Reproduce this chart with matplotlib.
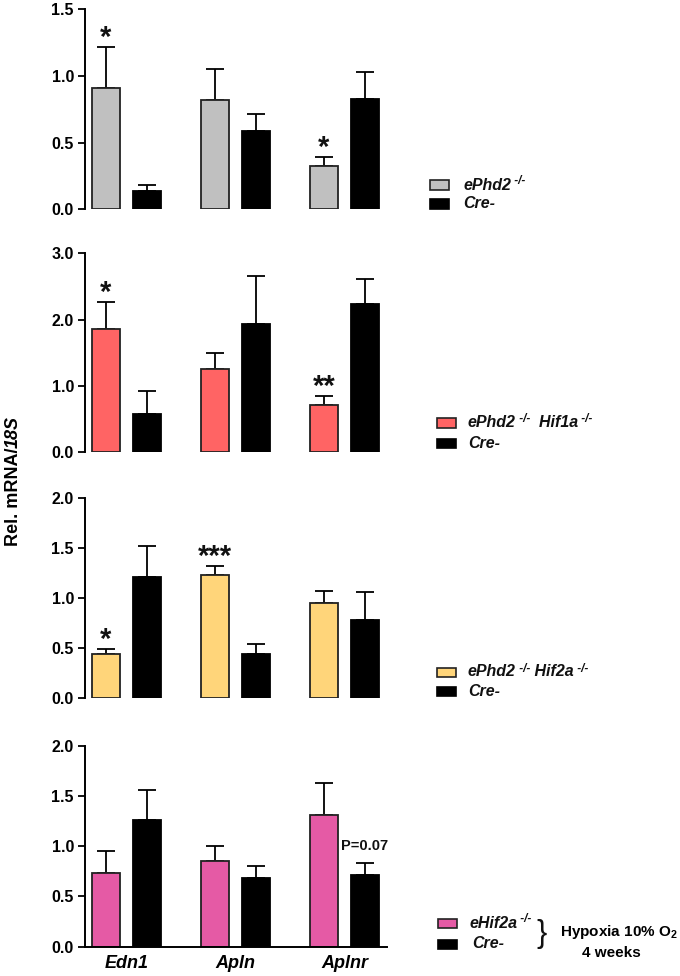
import matplotlib
matplotlib.use("Agg")
import matplotlib.pyplot as plt
from matplotlib.patches import Rectangle
import numpy as np

plt.rcParams['font.family'] = ['Liberation Sans', 'DejaVu Sans']
plt.rcParams['mathtext.fontset'] = 'custom'
plt.rcParams['mathtext.rm'] = 'Liberation Sans:bold'
plt.rcParams['mathtext.bf'] = 'Liberation Sans:bold'
plt.rcParams['mathtext.it'] = 'Liberation Sans:bold:italic'

genes = ["Edn1", "Apln", "Aplnr"]

# Panel 1: ePhd2-/- vs Cre-
p1_ko = [0.906, 0.816, 0.327]
p1_ko_err = [0.307, 0.234, 0.063]
p1_cre = [0.140, 0.586, 0.824]
p1_cre_err = [0.040, 0.130, 0.202]
p1_stars = ["*", "", "*"]

# Panel 2: ePhd2-/- Hif1a-/- vs Cre-
p2_ko = [1.855, 1.256, 0.709]
p2_ko_err = [0.412, 0.244, 0.136]
p2_cre = [0.573, 1.930, 2.240]
p2_cre_err = [0.347, 0.730, 0.380]
p2_stars = ["*", "", "**"]

# Panel 3: ePhd2-/- Hif2a-/- vs Cre-
p3_ko = [0.440, 1.228, 0.951]
p3_ko_err = [0.050, 0.090, 0.124]
p3_cre = [1.214, 0.446, 0.779]
p3_cre_err = [0.303, 0.099, 0.286]
p3_stars = ["*", "***", ""]

# Panel 4: eHif2a-/- vs Cre- (hypoxia)
p4_ko = [0.736, 0.853, 1.313]
p4_ko_err = [0.219, 0.152, 0.313]
p4_cre = [1.260, 0.680, 0.716]
p4_cre_err = [0.300, 0.123, 0.114]
p4_stars = ["", "", ""]

ylims = [1.5, 3.0, 2.0, 2.0]
yticks = [[0.0, 0.5, 1.0, 1.5], [0.0, 1.0, 2.0, 3.0],
          [0.0, 0.5, 1.0, 1.5, 2.0], [0.0, 0.5, 1.0, 1.5, 2.0]]
ko_colors = ["#c0c0c0", "#ff6464", "#ffd57a", "#e55aa5"]

W, H = 680, 976
fig = plt.figure(figsize=(W / 100, H / 100), dpi=100)
renderer = fig.canvas.get_renderer()

def fx(x):
    return x / W

def fy(y):
    return 1 - y / H

def pieces(x_px, y_px, parts):
    """parts: list of (text, fontsize, dy_px, italic)"""
    cx = x_px
    for txt, fs, dy, it in parts:
        t = fig.text(fx(cx), fy(y_px - dy), txt, ha='left', va='baseline', fontsize=fs,
                     fontweight='bold', style='italic' if it else 'normal', color='#111111')
        bb = t.get_window_extent(renderer=renderer)
        cx += bb.width

# axes pixel bounds (top, bottom)
axes_px = [(9, 209.3), (253.3, 452.3), (498, 698.3), (745.7, 946.7)]
left_px, right_px = 85, 387

panels = [
    (p1_ko, p1_ko_err, p1_cre, p1_cre_err, p1_stars),
    (p2_ko, p2_ko_err, p2_cre, p2_cre_err, p2_stars),
    (p3_ko, p3_ko_err, p3_cre, p3_cre_err, p3_stars),
    (p4_ko, p4_ko_err, p4_cre, p4_cre_err, p4_stars),
]

x = np.arange(len(genes))
bw = 0.257
off = 0.188
axes = []
for i, ((ko, koe, cre, cree, stars), (top, bot)) in enumerate(zip(panels, axes_px)):
    ax = fig.add_axes([fx(left_px), fy(bot), fx(right_px - left_px), (bot - top) / H])
    axes.append(ax)
    ekw = dict(ecolor='black', elinewidth=1.3, capsize=6.5, capthick=1.3, zorder=1)
    ax.bar(x - off, ko, bw, color=ko_colors[i], edgecolor='#222222', linewidth=1.3,
           yerr=[np.zeros(3), koe], error_kw=ekw, zorder=2)
    ax.bar(x + off, cre, bw, color='black', edgecolor='black', linewidth=1.3,
           yerr=[np.zeros(3), cree], error_kw=ekw, zorder=2)
    for j, s in enumerate(stars):
        if s:
            ax.text(x[j] - off, ko[j] + koe[j] - ylims[i] * 0.025, s, ha='center', va='bottom',
                    fontsize=21, fontweight='bold', color='#111111')
    ax.set_xlim(-0.381, 2.39)
    ax.set_ylim(0, ylims[i])
    ax.set_yticks(yticks[i])
    ax.set_yticklabels([f"{t:.1f}" for t in yticks[i]], fontsize=11.5, fontweight='bold')
    ax.tick_params(axis='y', length=5, width=1.3, pad=3)
    for s in ['top', 'right']:
        ax.spines[s].set_visible(False)
    ax.spines['left'].set_linewidth(1.4)
    if i < 3:
        ax.spines['bottom'].set_visible(False)
        ax.set_xticks([])
    else:
        ax.spines['bottom'].set_linewidth(1.4)
        ax.set_xticks(x)
        ax.set_xticklabels(genes, fontsize=13, fontweight='bold', style='italic')
        ax.tick_params(axis='x', length=0, pad=6)

# P value annotation in panel 4
axes[3].text(x[2] + off, 0.93, "P=0.07", ha='center', va='bottom', fontsize=10.5,
             fontweight='bold', color='#111111')

# y label: "Rel. mRNA/" + italic "18S", rotated
t1 = fig.text(0, 0, "Rel. mRNA/", rotation=90, fontsize=13, fontweight='bold',
              rotation_mode='anchor', ha='left', va='baseline')
t2 = fig.text(0, 0, "18S", rotation=90, fontsize=13, fontweight='bold', style='italic',
              rotation_mode='anchor', ha='left', va='baseline')
h1 = t1.get_window_extent(renderer=renderer).height
h2 = t2.get_window_extent(renderer=renderer).height
total = h1 + h2
ystart = 481 + total / 2
t1.set_position((fx(18), fy(ystart)))
t2.set_position((fx(18), fy(ystart - h1)))

# legends
sup = "-/-"
legend_items = [
    (ko_colors[0], [("ePhd2", 11.5, 0, True), (" " + sup, 8.5, 5, True)], 180, 199, 430, 463),
    (ko_colors[1], [("ePhd2", 11.5, 0, True), (" " + sup, 8.5, 5, True),
                    ("  Hif1a", 11.5, 0, True), (" " + sup, 8.5, 5, True)], 418, 438, 437, 468),
    (ko_colors[2], [("ePhd2", 11.5, 0, True), (" " + sup, 8.5, 5, True),
                    (" Hif2a", 11.5, 0, True), (" " + sup, 8.5, 5, True)], 667, 686, 437, 468),
    (ko_colors[3], [("eHif2a", 11.5, 0, True), (" " + sup, 8.5, 5, True)], 918, 939, 438, 469),
]
for col, parts, y1, y2, px0, tx in legend_items:
    fig.add_artist(Rectangle((fx(px0), fy(y1 + 10)), fx(19), 9.5 / H, facecolor=col,
                             edgecolor='#222222', linewidth=1.2, transform=fig.transFigure))
    fig.add_artist(Rectangle((fx(px0), fy(y2 + 10)), fx(19), 9.5 / H, facecolor='black',
                             edgecolor='black', linewidth=1.2, transform=fig.transFigure))
    pieces(tx, y1 + 9.5, parts)
    pieces(tx + (3 if px0 == 438 else 0), y2 + 9.5, [("Cre-", 11.5, 0, True)])

fig.text(fx(542), fy(934), "}", ha='center', va='center', fontsize=22, fontweight='normal',
         family='Liberation Sans', color='#111111')
fig.text(fx(560), fy(932), r"Hypoxia 10% O$_{2}$", ha='left', va='center', fontsize=11,
         fontweight='bold')
fig.text(fx(611), fy(953), "4 weeks", ha='center', va='center', fontsize=11, fontweight='bold')

fig.savefig("out.png", dpi=100)
